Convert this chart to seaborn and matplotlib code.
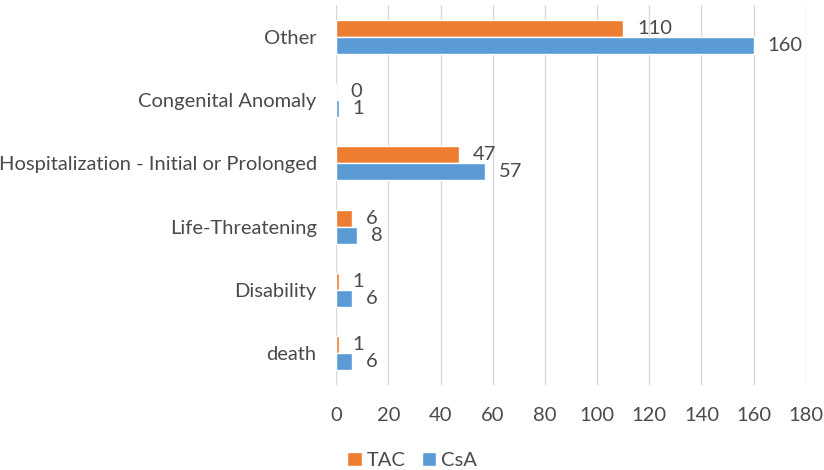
import pandas as pd
import numpy as np
import matplotlib.pyplot as plt
import seaborn as sns

sns.set_style("white")
plt.rcParams["font.family"] = ["Lato", "DejaVu Sans"]

# data
categories = ["Other", "Congenital Anomaly", "Hospitalization - Initial or Prolonged",
              "Life-Threatening", "Disability", "death"]
tac = [110, 0, 47, 6, 1, 1]
csa = [160, 1, 57, 8, 6, 6]
groups = ["TAC", "CsA"]
colors = ["#ED7D31", "#5B9BD5"]
xticks = list(range(0, 181, 20))

df = pd.DataFrame({
    "category": categories * 2,
    "value": tac + csa,
    "group": ["TAC"] * len(categories) + ["CsA"] * len(categories),
})

fig = plt.figure(figsize=(8.24, 4.70), dpi=100)
ax = fig.add_axes([0.408, 0.181, 0.570, 0.808])

sns.barplot(data=df, x="value", y="category", hue="group", hue_order=groups,
            order=categories, palette=colors, orient="h", width=0.54,
            saturation=1, ax=ax)

txt = "#4a4a4a"
for c in ax.containers:
    ax.bar_label(c, padding=10, fontsize=14.5, color=txt)

ax.set_xlim(0, 180)
ax.set_xticks(xticks)
ax.grid(axis="x", color="#d9d9d9", linewidth=1)
ax.set_axisbelow(True)
for s in ax.spines.values():
    s.set_visible(False)
ax.set_xlabel("")
ax.set_ylabel("")
ax.tick_params(axis="both", length=0, labelsize=14.5, colors=txt)
ax.tick_params(axis="x", pad=16)
ax.tick_params(axis="y", pad=14)

ax.legend(loc="lower center", bbox_to_anchor=(0.5 - (0.408 + 0.570 / 2 - 0.5) / 0.570, -0.27),
          ncol=2, frameon=False, fontsize=14.5, handlelength=0.7, handleheight=0.7,
          handletextpad=0.25, columnspacing=0.8, labelcolor=txt)

fig.savefig("out.png", dpi=100)
